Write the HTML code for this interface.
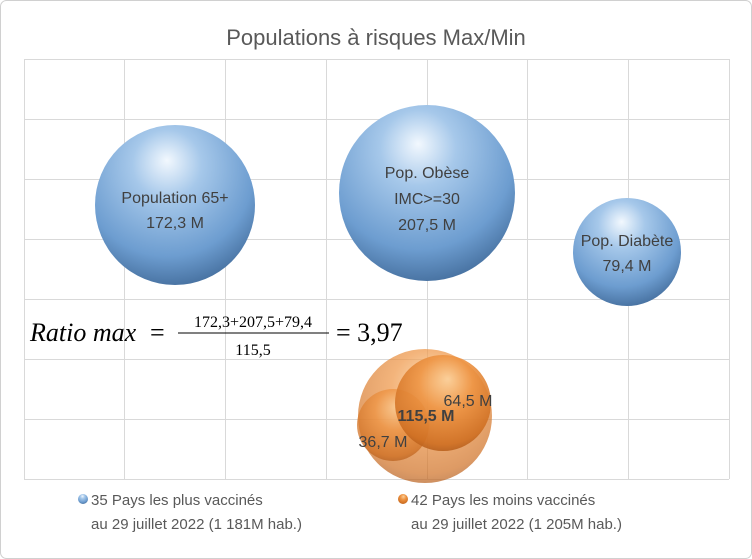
<!DOCTYPE html>
<html><head><meta charset="utf-8"><style>
body{margin:0;background:#fff}
svg{display:block;font-family:"Liberation Sans","DejaVu Sans",sans-serif}
</style></head><body>
<svg width="752" height="559" viewBox="0 0 752 559">
<defs>
<radialGradient id="b" cx="0.45" cy="0.3" r="0.72" fx="0.45" fy="0.22">
<stop offset="0" stop-color="#f2f8fe"/><stop offset="0.3" stop-color="#a6c8ea"/><stop offset="0.75" stop-color="#6d9dd0"/><stop offset="1" stop-color="#46709f"/></radialGradient>
<radialGradient id="o" cx="0.5" cy="0.35" r="0.7" fx="0.55" fy="0.25">
<stop offset="0" stop-color="#fbd09a"/><stop offset="0.4" stop-color="#ee9443"/><stop offset="0.85" stop-color="#cf6f22"/><stop offset="1" stop-color="#a9561a"/></radialGradient>
</defs>
<rect x="0.5" y="0.5" width="751" height="558" rx="6" fill="#fff" stroke="#d0d0d0"/>
<text x="376" y="45" text-anchor="middle" font-size="22" fill="#595959">Populations à risques Max/Min</text>
<g stroke="#d9d9d9" stroke-width="1">
<line x1="24" y1="59.5" x2="729" y2="59.5"/><line x1="24" y1="119.5" x2="729" y2="119.5"/><line x1="24" y1="179.5" x2="729" y2="179.5"/><line x1="24" y1="239.5" x2="729" y2="239.5"/><line x1="24" y1="299.5" x2="729" y2="299.5"/><line x1="24" y1="359.5" x2="729" y2="359.5"/><line x1="24" y1="419.5" x2="729" y2="419.5"/><line x1="24" y1="479.5" x2="729" y2="479.5"/>
<line x1="24.5" y1="59" x2="24.5" y2="479"/><line x1="124.5" y1="59" x2="124.5" y2="479"/><line x1="225.5" y1="59" x2="225.5" y2="479"/><line x1="326.5" y1="59" x2="326.5" y2="479"/><line x1="427.5" y1="59" x2="427.5" y2="479"/><line x1="527.5" y1="59" x2="527.5" y2="479"/><line x1="628.5" y1="59" x2="628.5" y2="479"/><line x1="729.5" y1="59" x2="729.5" y2="479"/>
</g>
<circle cx="175" cy="205" r="80" fill="url(#b)"/>
<circle cx="427" cy="193" r="88" fill="url(#b)"/>
<circle cx="627" cy="252" r="54" fill="url(#b)"/>
<g font-size="16" fill="#404040" text-anchor="middle">
<text x="175" y="203">Population 65+</text><text x="175" y="228">172,3 M</text>
<text x="427" y="178">Pop. Obèse</text><text x="427" y="204">IMC&gt;=30</text><text x="427" y="230">207,5 M</text>
<text x="627" y="246">Pop. Diabète</text><text x="627" y="271">79,4 M</text>
</g>
<circle cx="425" cy="416" r="67" fill="url(#o)" opacity="0.7"/>
<circle cx="393" cy="425" r="36" fill="url(#o)" opacity="0.75"/>
<circle cx="443" cy="403" r="48" fill="url(#o)" opacity="0.9"/>
<g font-size="16" fill="#404040" text-anchor="middle">
<text x="468" y="406">64,5 M</text>
<text x="426" y="421" font-weight="bold">115,5 M</text>
<text x="383" y="447">36,7 M</text>
</g>
<g font-family="Liberation Serif,serif" fill="#000">
<text x="30" y="341" font-size="26" font-style="italic">Ratio max</text>
<text x="150" y="341" font-size="26">=</text>
<text x="253" y="327" font-size="16" text-anchor="middle">172,3+207,5+79,4</text>
<line x1="178" y1="333" x2="329" y2="333" stroke="#000" stroke-width="1"/>
<text x="253" y="355" font-size="16" text-anchor="middle">115,5</text>
<text x="336" y="341" font-size="26">= 3,97</text>
</g>
<circle cx="83" cy="499" r="5" fill="url(#b)"/>
<circle cx="403" cy="499" r="5" fill="url(#o)"/>
<g font-size="15" fill="#595959">
<text x="91" y="505">35 Pays les plus vaccinés</text>
<text x="91" y="529">au 29 juillet 2022 (1 181M hab.)</text>
<text x="411" y="505">42 Pays les moins vaccinés</text>
<text x="411" y="529">au 29 juillet 2022 (1 205M hab.)</text>
</g>
</svg>
</body></html>
